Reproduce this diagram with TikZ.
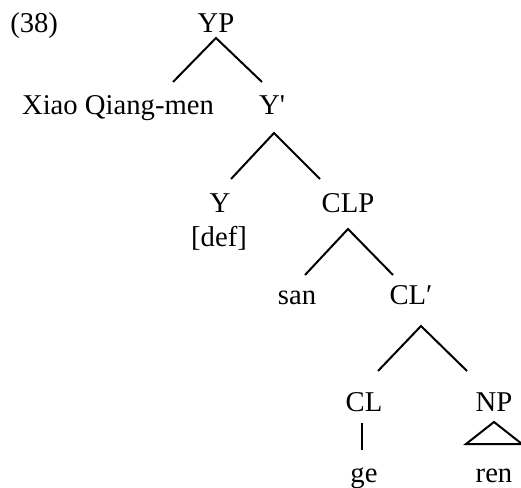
\documentclass[tikz,border=0pt]{standalone}
\usepackage{fontspec}
\setmainfont{Liberation Serif}
\begin{document}
\begin{tikzpicture}[x=0.75pt,y=-0.75pt,
  lbl/.style={anchor=base,inner sep=0pt,font=\fontsize{21.5}{26}\selectfont},
  br/.style={line width=1.5pt}]
\useasboundingbox (0,0) rectangle (521,488);
% labels
\node[lbl,anchor=base west] (ex) at (10,33) {(38)};
\node[lbl] (YP) at (216,33) {YP};
\node[lbl] (XQ) at (118,115) {Xiao Qiang-men};
\node[lbl] (Ybar) at (272,115) {Y\textquotesingle};
\node[lbl] (Y) at (220,213) {Y};
\node[lbl] (def) at (219,247) {[def]};
\node[lbl] (CLP) at (348,213) {CLP};
\node[lbl] (san) at (297,305) {san};
\node[lbl] (CLbar) at (411,305) {CL′};
\node[lbl] (CL) at (364,411) {CL};
\node[lbl] (NP) at (494,411) {NP};
\node[lbl] (ge) at (364,482) {ge};
\node[lbl] (ren) at (494,482) {ren};
% branch points
\coordinate (YPd) at (216,38);
\coordinate (XQu) at (173,82);
\coordinate (Ybu) at (262,82);
\coordinate (Ybd) at (274,133);
\coordinate (Yu) at (231,179);
\coordinate (CLPu) at (320,179);
\coordinate (CLPd) at (348,229);
\coordinate (sanu) at (305,275);
\coordinate (CLbu) at (393,275);
\coordinate (CLbd) at (421,326);
\coordinate (CLu) at (378,371);
\coordinate (NPu) at (467,371);
\coordinate (CLd) at (362,423);
\coordinate (geu) at (362,450);
\coordinate (NPd) at (494,422);
\coordinate (renl) at (466,444);
\coordinate (renr) at (522,444);
% branches
\draw[br] (XQu) -- (YPd) -- (Ybu);
\draw[br] (Yu) -- (Ybd) -- (CLPu);
\draw[br] (sanu) -- (CLPd) -- (CLbu);
\draw[br] (CLu) -- (CLbd) -- (NPu);
\draw[br] (CLd) -- (geu);
\draw[br,line join=miter] (renl) -- (NPd) -- (renr) -- cycle;
\end{tikzpicture}
\end{document}
